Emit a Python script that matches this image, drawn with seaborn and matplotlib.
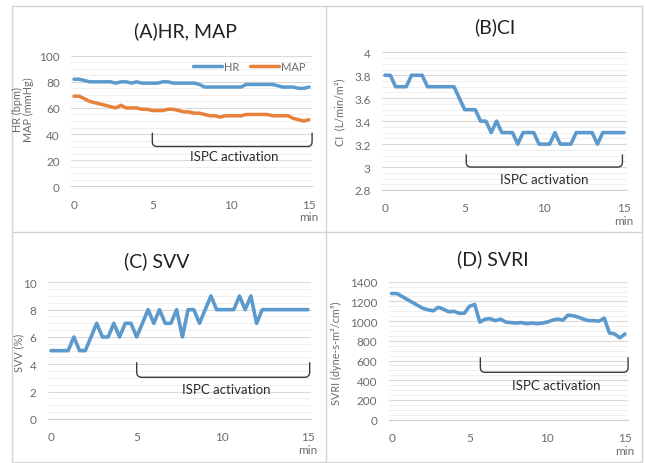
import numpy as np
import pandas as pd
import matplotlib
matplotlib.use("Agg")
import matplotlib.pyplot as plt
from matplotlib.path import Path
from matplotlib.patches import PathPatch, Rectangle
from matplotlib.lines import Line2D
from matplotlib.ticker import MultipleLocator, FuncFormatter
import seaborn as sns

# Monitoring samples every 20 seconds over 15 minutes
minutes = np.arange(0, 15 * 60 + 1, 20) / 60

hr = [82, 82, 81, 80, 80, 80, 80, 80, 79, 80, 80, 79, 80, 79, 79, 79,
      79, 80, 80, 79, 79, 79, 79, 79, 78, 76, 76, 76, 76, 76, 76, 76,
      76, 78, 78, 78, 78, 78, 78, 77, 76, 76, 76, 75, 75, 76]
map_ = [69, 69, 67, 65, 64, 63, 62, 61, 60, 62, 60, 60, 60, 59, 59, 58,
        58, 58, 59, 59, 58, 57, 57, 56, 56, 55, 54, 54, 53, 54, 54, 54,
        54, 55, 55, 55, 55, 55, 54, 54, 54, 54, 52, 51, 50, 51]
ci = [3.8, 3.8, 3.7, 3.7, 3.7, 3.8, 3.8, 3.8, 3.7, 3.7, 3.7, 3.7, 3.7, 3.7,
      3.6, 3.5, 3.5, 3.5, 3.4, 3.4, 3.3, 3.4, 3.3, 3.3, 3.3, 3.2, 3.3, 3.3,
      3.3, 3.2, 3.2, 3.2, 3.3, 3.2, 3.2, 3.2, 3.3, 3.3, 3.3, 3.3, 3.2, 3.3,
      3.3, 3.3, 3.3, 3.3]
svv = [5, 5, 5, 5, 6, 5, 5, 6, 7, 6, 6, 7, 6, 7, 7, 6, 7, 8, 7, 8, 7, 7,
       8, 6, 8, 8, 7, 8, 9, 8, 8, 8, 8, 9, 8, 9, 7, 8, 8, 8, 8, 8, 8, 8,
       8, 8]
svri = [1280, 1280, 1250, 1220, 1190, 1160, 1130, 1115, 1105, 1140, 1120,
        1095, 1100, 1080, 1080, 1150, 1170, 990, 1020, 1025, 1005, 1020,
        990, 985, 980, 985, 975, 980, 975, 980, 990, 1010, 1020, 1010,
        1060, 1055, 1040, 1020, 1005, 1005, 1000, 1030, 880, 870, 830, 870]

x_ticks = [0, 5, 10, 15]
x_tick_labels = ["0", "5", "10", "15\nmin"]
series_names = ["HR", "MAP"]
bracket_label = "ISPC activation"

BLUE = "#5c9acd"
ORANGE = "#e8823a"
TICK_GREY = "#6b6b6b"
FRAME_GREY = "#d4d4d4"

sns.set_style("white")
plt.rcParams["font.family"] = ["Lato", "DejaVu Sans"]

W, H = 645, 464
fig = plt.figure(figsize=(W / 100, H / 100), dpi=100)


def axes_px(x0, x1, y_top, y_bot):
    return fig.add_axes([x0 / W, 1 - y_bot / H, (x1 - x0) / W, (y_bot - y_top) / H])


def style(ax, ylim, major):
    ax.set_xlim(-0.2, 15.2)
    ax.set_ylim(*ylim)
    ax.set_xticks(x_ticks)
    ax.set_xticklabels(x_tick_labels, linespacing=1.15)
    ax.yaxis.set_major_locator(MultipleLocator(major))
    ax.yaxis.set_minor_locator(MultipleLocator(major / 4))
    ax.yaxis.set_major_formatter(FuncFormatter(lambda v, p: f"{round(v, 6):g}"))
    ax.grid(which="major", axis="y", color="#d9d9d9", lw=0.8)
    ax.grid(which="minor", axis="y", color="#efefef", lw=0.7)
    ax.grid(which="both", axis="x", visible=False)
    ax.set_axisbelow(True)
    for s in ["left", "right", "top"]:
        ax.spines[s].set_visible(False)
    ax.spines["bottom"].set_color("#cfcfcf")
    ax.spines["bottom"].set_linewidth(0.8)
    ax.tick_params(which="both", length=0, labelsize=8.5, colors=TICK_GREY)
    ax.tick_params(axis="y", pad=8)
    ax.tick_params(axis="x", pad=9)
    ax.set_xlabel("")
    ax.set_ylabel("")


def bracket(ax, x0, x1, y_top, y_bot, rx, ry, tx, ty):
    verts = [(x0, y_top), (x0, y_bot + ry), (x0, y_bot), (x0 + rx, y_bot),
             (x1 - rx, y_bot), (x1, y_bot), (x1, y_bot + ry), (x1, y_top)]
    codes = [Path.MOVETO, Path.LINETO, Path.CURVE3, Path.CURVE3,
             Path.LINETO, Path.CURVE3, Path.CURVE3, Path.LINETO]
    ax.add_patch(PathPatch(Path(verts, codes), fill=False, lw=1.0,
                           edgecolor="#3a3a3a", clip_on=False))
    ax.text(tx, ty, bracket_label, ha="center", va="center",
            fontsize=9.5, color="#2b2b2b")


# (A) HR and MAP
ax_a = axes_px(70.9, 312.1, 56.7, 187.3)
df_a = pd.DataFrame({
    "minute": np.concatenate([minutes, minutes]),
    "value": hr + map_,
    "series": [series_names[0]] * len(hr) + [series_names[1]] * len(map_),
})
sns.lineplot(data=df_a, x="minute", y="value", hue="series",
             palette=[BLUE, ORANGE], lw=2.5, ax=ax_a)
style(ax_a, (0, 100), 20)
handles = [Line2D([], [], color=BLUE, lw=2.5), Line2D([], [], color=ORANGE, lw=2.5)]
ax_a.legend(handles, series_names, loc="center", bbox_to_anchor=(0.74, 0.92),
            ncol=2, frameon=False, fontsize=8, handlelength=2.6,
            handletextpad=0.2, columnspacing=1.0, labelcolor=TICK_GREY)
bracket(ax_a, 5.0, 15.2, 41, 30.5, 0.3, 3.5, 10.2, 23.5)

# (B) CI
ax_b = axes_px(381.8, 627.2, 53.3, 191.0)
sns.lineplot(x=minutes, y=ci, color=BLUE, lw=2.6, ax=ax_b)
style(ax_b, (2.8, 4.0), 0.2)
bracket(ax_b, 5.1, 14.9, 3.11, 3.0, 0.3, 0.04, 10.0, 2.9)

# (C) SVV
ax_c = axes_px(47.6, 311.4, 283.3, 420.0)
sns.lineplot(x=minutes, y=svv, color=BLUE, lw=2.6, ax=ax_c)
style(ax_c, (0, 10), 2)
bracket(ax_c, 5.0, 15.1, 4.15, 3.05, 0.3, 0.4, 10.25, 2.2)

# (D) SVRI
ax_d = axes_px(388.6, 628.1, 282.7, 420.7)
sns.lineplot(x=minutes, y=svri, color=BLUE, lw=2.6, ax=ax_d)
style(ax_d, (0, 1400), 200)
bracket(ax_d, 5.7, 15.2, 633, 481, 0.3, 50, 10.6, 352)

# Panel titles and axis titles
title_kw = dict(ha="center", va="center", fontsize=14, color="#222222")
fig.text(185 / W, 1 - 31 / H, "(A)HR, MAP", **title_kw)
fig.text(495 / W, 1 - 27 / H, "(B)CI", **title_kw)
fig.text(157 / W, 1 - 261 / H, "(C) SVV", **title_kw)
fig.text(493 / W, 1 - 259 / H, "(D) SVRI", **title_kw)

ylab_kw = dict(ha="center", va="center", rotation=90, fontsize=7.8, color=TICK_GREY)
fig.text(23 / W, 1 - 110 / H, "HR (bpm)\nMAP (mmHg)", linespacing=1.1, **ylab_kw)
fig.text(340 / W, 1 - 112 / H, "CI  (L/min/m\u00b2)", **ylab_kw)
fig.text(19 / W, 1 - 353 / H, "SVV (%)", **ylab_kw)
fig.text(336 / W, 1 - 353 / H, "SVRI (dyne-s-m\u00b2/cm\u2075)", **ylab_kw)

# Panel frames
fig.add_artist(Rectangle((12 / W, 1 - 463 / H), 630 / W, 456 / H,
                         transform=fig.transFigure, fill=False,
                         edgecolor=FRAME_GREY, lw=1.0))
fig.add_artist(Line2D([326 / W, 326 / W], [1 - 463 / H, 1 - 7 / H],
                      transform=fig.transFigure, color=FRAME_GREY, lw=1.0))
fig.add_artist(Line2D([12 / W, 642 / W], [1 - 232.5 / H, 1 - 232.5 / H],
                      transform=fig.transFigure, color=FRAME_GREY, lw=1.0))

fig.savefig("out.png", dpi=100, facecolor="white")
